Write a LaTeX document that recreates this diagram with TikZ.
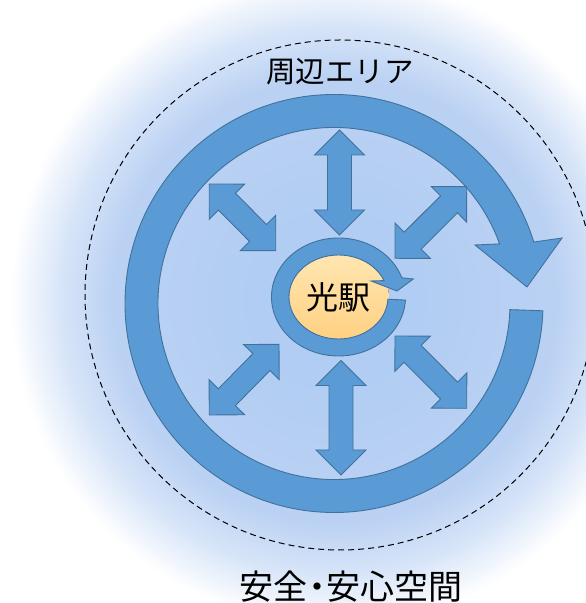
\documentclass[tikz,border=0pt]{standalone}
\usepackage{fontspec}
\newfontfamily\jp{Noto Sans CJK JP}
\usetikzlibrary{calc}
\definecolor{ringfill}{HTML}{5B9BD5}
\definecolor{ringline}{HTML}{41719C}
\definecolor{glowA}{HTML}{ADCBF3}
\definecolor{glowB}{HTML}{BAD1F3}
\definecolor{glowC}{HTML}{D6E4F8}
\definecolor{orangeT}{HTML}{FFE6B0}
\definecolor{orangeB}{HTML}{FFD183}
\pgfdeclareradialshading{glow}{\pgfpoint{0bp}{0bp}}{color(0bp)=(glowA); color(17bp)=(glowB); color(21bp)=(glowC); color(25bp)=(white); color(50bp)=(white)}
\tikzset{
  shapeblue/.style={fill=ringfill, draw=ringline, line width=0.9pt, line join=miter},
  jplabel/.style={font=\jp, inner sep=0pt, text=black},
}
\newcommand\dblarrow[3]{%
  \path ($(#2)!25pt!(#3)$) coordinate (#1a) ($(#3)!25pt!(#2)$) coordinate (#1b);
  \filldraw[shapeblue] (#2) -- ($(#1a)!25pt!90:(#3)$) -- ($(#1a)!12pt!90:(#3)$)
    -- ($(#1b)!12pt!-90:(#2)$) -- ($(#1b)!25pt!-90:(#2)$) -- (#3)
    -- ($(#1b)!25pt!90:(#2)$) -- ($(#1b)!12pt!90:(#2)$)
    -- ($(#1a)!12pt!-90:(#3)$) -- ($(#1a)!25pt!-90:(#3)$) -- cycle;}
\begin{document}
\begin{tikzpicture}[x=1pt,y=1pt]
\useasboundingbox (0,0) rectangle (586,603);
\clip (0,0) rectangle (586,603);
\fill[white] (0,0) rectangle (586,603);
% soft glow
\shade[shading=glow] (335,303) circle[radius=325pt];
% dashed boundary
\draw[black, line width=1pt, dash pattern=on 6pt off 4pt] (340,308) circle[radius=255pt];
% big circular arrow
\coordinate (C1) at (334,299.5);
\filldraw[shapeblue] ($(C1)+(-2:209pt)$) arc[start angle=-2, end angle=-342.9, radius=209pt]
  -- (562,365) -- (527,316) -- (475,358) -- ($(C1)+(19.8:176pt)$)
  arc[start angle=-340.2, end angle=-2, radius=176pt] -- cycle;
% station core
\coordinate (C2) at (338.5,306);
\fill[top color=orangeT, bottom color=orangeB] (339,306) ellipse[x radius=50pt, y radius=42pt];
% small circular arrow
\filldraw[shapeblue] ($(C2)+({67*cos(-3)},{59*sin(-3)})$)
  arc[start angle=-3, end angle=-341, x radius=67pt, y radius=59pt]
  -- (413.3,324) -- (397,312) -- (371,322) -- ($(C2)+({49.5*cos(23)},{42*sin(23)})$)
  arc[start angle=-337, end angle=-3, x radius=49.5pt, y radius=42pt] -- cycle;
% double arrows
\coordinate (t1) at (339.5,473); \coordinate (t2) at (339.5,368);
\coordinate (b1) at (341,242.5); \coordinate (b2) at (341,128);
\coordinate (ul1) at (209.3,419); \coordinate (ul2) at (275.7,352.3);
\coordinate (ur1) at (466.7,416.3); \coordinate (ur2) at (395,344.7);
\coordinate (ll1) at (279,258.7); \coordinate (ll2) at (209.3,188);
\coordinate (lr1) at (395,267); \coordinate (lr2) at (466.7,194.7);
\dblarrow{t}{t1}{t2}
\dblarrow{b}{b1}{b2}
\dblarrow{ul}{ul1}{ul2}
\dblarrow{ur}{ur1}{ur2}
\dblarrow{ll}{ll1}{ll2}
\dblarrow{lr}{lr1}{lr2}
% labels
\node[jplabel, font=\jp\fontsize{32}{32}\selectfont] (eki) at (338.5,306) {光駅};
\node[jplabel, font=\jp\fontsize{29.5}{29.5}\selectfont] (area) at (340,531) {周辺エリア};
\node[jplabel, font=\jp\fontsize{34}{34}\selectfont] (space) at (351,16) {安全\hspace{-0.22em}・\hspace{-0.22em}安心空間};
\end{tikzpicture}
\end{document}
